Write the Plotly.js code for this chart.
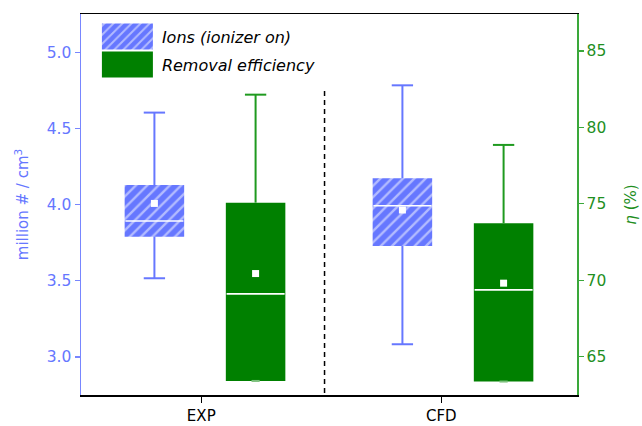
<!DOCTYPE html>
<html>
<head>
<meta charset="utf-8">
<script src="https://cdn.plot.ly/plotly-3.0.1.min.js"></script>
<style>
  html, body { margin: 0; padding: 0; background: #fff; }
  #chart { width: 642px; height: 426px; }
</style>
</head>
<body>
<div id="chart"></div>
<script>
// Groups on the x axis
const groups = ['EXP', 'CFD'];

// Ion concentration (million # / cm³), box statistics per group
const ionsMin    = [3.517, 3.084];
const ionsQ1     = [3.790, 3.729];
const ionsMedian = [3.893, 3.993];
const ionsQ3     = [4.129, 4.173];
const ionsMax    = [4.604, 4.783];
const ionsMean   = [4.008, 3.965];

// Removal efficiency η (%), box statistics per group
const effMin    = [63.40, 63.36];
const effQ1     = [63.40, 63.36];
const effMedian = [69.10, 69.36];
const effQ3     = [75.07, 73.72];
const effMax    = [82.14, 78.85];
const effMean   = [70.43, 69.80];

// Legend names
const seriesNames = ['Ions (ionizer on)', 'Removal efficiency'];

// ---- styling / layout constants ----
const FONT = '"DejaVu Sans", Verdana, sans-serif';
const BLUE = '#6677ff';
const BLUE_AXIS = '#7886ff';
const GREEN = '#008000';
const GREEN_LINE = '#1f9a1f';
const GREEN_AXIS = '#3aa83a';
const GREEN_TEXT = '#1f8f1f';
const BOX_W = 0.24;      // box width in x units
const CAP_W = 0.086;     // whisker cap width
const OFFSET = 0.204;    // half distance between the two boxes of a group
const SEPARATOR_X = 0.482;

const idx = groups.map((g, i) => i);
const ionsX = idx.map(i => i - OFFSET);
const effX = idx.map(i => i + OFFSET);

// Build whisker and top-cap segments for one series
function segments(xs, lo, q1, q3, hi) {
  const wx = [], wy = [], cx = [], cy = [];
  xs.forEach((x, i) => {
    wx.push(x, x, null, x, x, null);
    wy.push(q3[i], hi[i], null, q1[i], lo[i], null);
    cx.push(x - CAP_W / 2, x + CAP_W / 2, null);
    cy.push(hi[i], hi[i], null);
  });
  return { wx, wy, cx, cy };
}
function lowCaps(xs, lo, w) {
  const x = [], y = [];
  xs.forEach((c, i) => { x.push(c - w / 2, c + w / 2, null); y.push(lo[i], lo[i], null); });
  return { x, y };
}
function medianLines(xs, med) {
  const x = [], y = [];
  xs.forEach((c, i) => { x.push(c - BOX_W / 2 + 0.003, c + BOX_W / 2 - 0.003, null); y.push(med[i], med[i], null); });
  return { x, y };
}

const ionSeg = segments(ionsX, ionsMin, ionsQ1, ionsQ3, ionsMax);
const effSeg = segments(effX, effMin, effQ1, effQ3, effMax);
const ionLowCap = lowCaps(ionsX, ionsMin, CAP_W);
const effLowCap = lowCaps(effX, effMin, 0.033);
const ionMed = medianLines(ionsX, ionsMedian);
const effMed = medianLines(effX, effMedian);

const traces = [
  // whiskers first so the boxes sit on top
  { type: 'scatter', mode: 'lines', x: ionSeg.wx, y: ionSeg.wy, yaxis: 'y',
    line: { color: BLUE, width: 2 }, showlegend: false, hoverinfo: 'skip' },
  { type: 'scatter', mode: 'lines', x: ionSeg.cx, y: ionSeg.cy, yaxis: 'y',
    line: { color: BLUE, width: 2 }, showlegend: false, hoverinfo: 'skip' },
  { type: 'scatter', mode: 'lines', x: ionLowCap.x, y: ionLowCap.y, yaxis: 'y',
    line: { color: BLUE, width: 2 }, showlegend: false, hoverinfo: 'skip' },
  { type: 'scatter', mode: 'lines', x: effSeg.wx, y: effSeg.wy, yaxis: 'y2',
    line: { color: GREEN_LINE, width: 2 }, showlegend: false, hoverinfo: 'skip' },
  { type: 'scatter', mode: 'lines', x: effSeg.cx, y: effSeg.cy, yaxis: 'y2',
    line: { color: GREEN_LINE, width: 2 }, showlegend: false, hoverinfo: 'skip' },

  // boxes (interquartile range) as bars with a base
  { type: 'bar', name: seriesNames[0], legendgroup: 'ions',
    x: ionsX, base: ionsQ1, y: ionsQ3.map((v, i) => v - ionsQ1[i]),
    width: BOX_W, yaxis: 'y',
    marker: { color: BLUE, line: { width: 0 },
      pattern: { shape: '/', fgcolor: '#ffffff', bgcolor: BLUE, size: 8, solidity: 0.3, fillmode: 'overlay' } },
    hoverinfo: 'skip' },
  { type: 'bar', name: seriesNames[1], legendgroup: 'eff',
    x: effX, base: effQ1, y: effQ3.map((v, i) => v - effQ1[i]),
    width: BOX_W, yaxis: 'y2',
    marker: { color: GREEN, line: { width: 0 } },
    hoverinfo: 'skip' },

  // low whisker cap of efficiency sits on the box edge
  { type: 'scatter', mode: 'lines', x: effLowCap.x, y: effLowCap.y, yaxis: 'y2',
    line: { color: '#7cc07c', width: 2 }, showlegend: false, hoverinfo: 'skip' },

  // medians
  { type: 'scatter', mode: 'lines', x: ionMed.x, y: ionMed.y, yaxis: 'y',
    line: { color: '#ffffff', width: 1.6 }, showlegend: false, hoverinfo: 'skip' },
  { type: 'scatter', mode: 'lines', x: effMed.x, y: effMed.y, yaxis: 'y2',
    line: { color: '#ffffff', width: 1.6 }, showlegend: false, hoverinfo: 'skip' },

  // means
  { type: 'scatter', mode: 'markers', x: ionsX, y: ionsMean, yaxis: 'y',
    marker: { symbol: 'square', size: 7, color: '#ffffff' }, showlegend: false, hoverinfo: 'skip' },
  { type: 'scatter', mode: 'markers', x: effX, y: effMean, yaxis: 'y2',
    marker: { symbol: 'square', size: 7, color: '#ffffff' }, showlegend: false, hoverinfo: 'skip' }
];

const layout = {
  width: 642, height: 426,
  margin: { l: 81, r: 65, t: 14, b: 31 },
  paper_bgcolor: '#ffffff', plot_bgcolor: '#ffffff',
  font: { family: FONT, size: 15 },
  barmode: 'overlay',
  showlegend: true,
  legend: {
    x: 0.024, y: 0.985, xanchor: 'left', yanchor: 'top',
    bgcolor: 'rgba(0,0,0,0)', borderwidth: 0,
    itemwidth: 59, tracegroupgap: 4, traceorder: 'grouped',
    font: { family: FONT, size: 16, color: '#000000', style: 'italic' }
  },
  xaxis: {
    range: [-0.5, 1.5],
    tickmode: 'array', tickvals: [-0.015, 0.953], ticktext: groups,
    showgrid: false, zeroline: false,
    showline: true, linecolor: '#000000', linewidth: 1.5, mirror: true,
    ticks: 'outside', ticklen: 6, tickwidth: 1.2, tickcolor: '#000000',
    tickfont: { family: FONT, size: 15, color: '#000000' }
  },
  yaxis: {
    range: [2.751, 5.251],
    tickvals: [3.0, 3.5, 4.0, 4.5, 5.0], tickformat: '.1f',
    showgrid: false, zeroline: false,
    showline: true, linecolor: BLUE_AXIS, linewidth: 1.5,
    ticks: 'outside', ticklen: 5, tickwidth: 1.2, tickcolor: BLUE_AXIS,
    tickfont: { family: FONT, size: 15.5, color: BLUE },
    title: { text: 'million # / cm<sup>3</sup>', standoff: 14,
      font: { family: FONT, size: 15, color: BLUE } }
  },
  yaxis2: {
    overlaying: 'y', side: 'right',
    range: [62.48, 87.42],
    tickvals: [65, 70, 75, 80, 85],
    showgrid: false, zeroline: false,
    showline: true, linecolor: GREEN_AXIS, linewidth: 1.5,
    ticks: 'outside', ticklen: 5, tickwidth: 1.2, tickcolor: GREEN_AXIS,
    tickfont: { family: FONT, size: 15.5, color: GREEN_TEXT },
    title: { text: '<i>η</i> (%)', standoff: 20,
      font: { family: FONT, size: 15, color: GREEN_TEXT } }
  },
  shapes: [{
    type: 'line', xref: 'x', yref: 'paper',
    x0: SEPARATOR_X, x1: SEPARATOR_X, y0: 0.005, y1: 0.805,
    line: { color: '#000000', width: 1.5, dash: '5px,4px' }
  }]
};

const gd = document.getElementById('chart');

// enlarge the legend swatches to wide boxes
function widenSwatches() {
  gd.querySelectorAll('.legend .legendpoints path').forEach(p => {
    p.setAttribute('d', 'M25.5,13H-25.5V-13H25.5Z');
  });
}

Plotly.newPlot(gd, traces, layout, { displayModeBar: false, staticPlot: true }).then(() => {
  widenSwatches();
  gd.on('plotly_afterplot', widenSwatches);
});
</script>
</body>
</html>
